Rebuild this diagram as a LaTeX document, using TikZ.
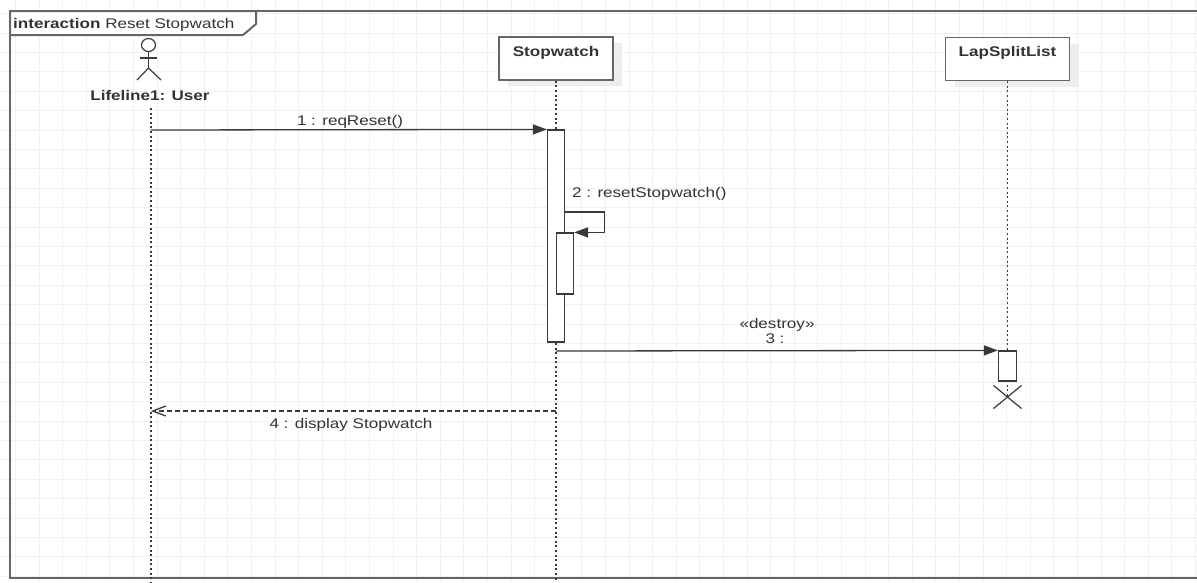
\documentclass[tikz,border=0pt]{standalone}
\usepackage{fontspec}
\setmainfont{Liberation Sans}[FakeStretch=1.22]
\usepackage{xcolor}
\usetikzlibrary{arrows.meta,positioning,shadows,shapes.misc}
\definecolor{gridgray}{HTML}{F1F1F1}
\definecolor{linegray}{HTML}{3A3A3A}
\definecolor{framegray}{HTML}{666666}
\definecolor{textgray}{HTML}{333333}
\tikzset{
	gridline/.style={draw=gridgray, line width=1pt},
	frame/.style={draw=framegray, line width=2pt},
	lifebox/.style={draw=framegray, line width=1.5pt, fill=white, minimum height=43pt, inner ysep=4pt, text height=15pt, text depth=20pt, text=textgray, font=\fontsize{14}{17}\selectfont\bfseries, drop shadow={shadow xshift=9pt, shadow yshift=-6pt, fill=black!7, opacity=1}},
	activation/.style={draw=linegray, line width=1.2pt, fill=white, minimum width=17pt, inner sep=0pt},
	lifeline/.style={draw=linegray, line width=1.6pt, dash pattern=on 2pt off 2.6pt},
	actor/.style={draw=linegray, line width=1.2pt},
	msg/.style={draw=linegray, line width=1.3pt, -{Triangle[length=14pt,width=10pt]}},
	reply/.style={draw=linegray, line width=1.3pt, dash pattern=on 5pt off 3pt, -{Straight Barb[length=13pt,width=10pt]}},
	msglabel/.style={text=textgray, font=\fontsize{14}{17}\selectfont, inner sep=0pt, anchor=base},
	destroyx/.style={cross out, draw=linegray, line width=1.2pt, minimum width=27pt, minimum height=22pt, inner sep=0pt}
}

\begin{document}
\begin{tikzpicture}[x=1pt, y=-1pt]
	\useasboundingbox[fill=white] (0,0) rectangle (1197,582);
	
	% grid
	\foreach \gx in {0,...,50} \draw[gridline] ({15.4+23.6*\gx},0) -- ({15.4+23.6*\gx},582);
	\foreach \gy in {0,...,29} \draw[gridline] (0,{13.6+19.4*\gy}) -- (1197,{13.6+19.4*\gy});
	
	% frame and tab
	\draw[frame] (1197,11) -- (10,11) -- (10,578) -- (1197,578);
	\draw[frame, fill=white] (10,11) -- (256,11) -- (256,24) -- (243,35) -- (10,35) -- cycle;
	\node[msglabel, anchor=base west] (title) at (13,28) {\textbf{interaction} Reset Stopwatch};
	
	% actor
	\draw[actor] (148.5,45) ellipse[x radius=7, y radius=6.5];
	\draw[actor] (148.5,51.5) -- (148.5,68) (140,58) -- (157,58);
	\draw[actor] (137,80) -- (148.5,68) -- (161,80);
	\node[msglabel, font=\fontsize{14}{17}\selectfont\bfseries] (user) at (150,100) {Lifeline1: User};
	
	% lifeline heads
	\node[lifebox, minimum width=114pt] (sw) at (556,58.5) {Stopwatch};
	\node[lifebox, minimum width=124pt] (lap) at (1007.5,59) {LapSplitList};
	
	\coordinate (utop) at (151,108);
	\coordinate (ubot) at (151,582);
	\node[destroyx] (lapx) at (1007.5,397) {};
	
	\draw[lifeline] (utop) -- (ubot);
	\draw[lifeline] (sw.south) -- (sw.south |- ubot);
	\draw[lifeline] (lap.south) -- (lapx.center);
	
	% activations
	\node[activation, minimum height=212pt] (act1) at (556,236) {};
	\node[activation, minimum height=61pt] (act2) at (565,263.5) {};
	\node[activation, minimum width=18pt, minimum height=30pt] (act3) at (1007.5,366) {};
	
	% messages
	\coordinate (u1) at (151,130);
	\coordinate (s2) at (564.5,212);
	\coordinate (s3) at (556,351);
	\coordinate (s4) at (556,411);
	\coordinate (u4) at (151,411);
	
	\draw[msg] (u1) -- (act1.north west);
	\draw[msg] (s2) -- ++(40,0) |- (act2.north east);
	\draw[msg] (s3) -- (act3.north west);
	\draw[reply] (s4) -- (u4);
	
	\node[msglabel] (m1) at (350,125) {1 : reqReset()};
	\node[msglabel, anchor=base west] (m2) at (572,197) {2 : resetStopwatch()};
	\node[msglabel] (m3st) at (777,328) {«destroy»};
	\node[msglabel] (m3) at (775,343) {3 :};
	\node[msglabel] (m4) at (351,428) {4 : display Stopwatch};
\end{tikzpicture}
\end{document}
